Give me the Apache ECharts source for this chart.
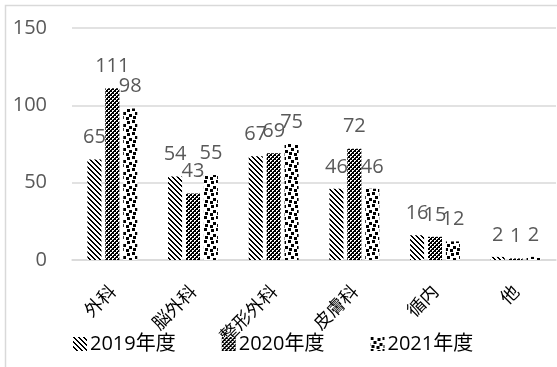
<!DOCTYPE html>
<html>
<head>
<meta charset="utf-8">
<script src="https://cdn.jsdelivr.net/npm/echarts@6/dist/echarts.min.js"></script>
<style>
  html, body { margin: 0; padding: 0; background: #fff; }
  #chart { width: 557px; height: 367px; }
</style>
</head>
<body>
<div id="chart"></div>
<script>
// Departments and yearly counts
const categories = ['外科', '脳外科', '整形外科', '皮膚科', '循内', '他'];
const seriesNames = ['2019年度', '2020年度', '2021年度'];
const values2019 = [65, 54, 67, 46, 16, 2];
const values2020 = [111, 43, 69, 72, 15, 1];
const values2021 = [98, 55, 75, 46, 12, 2];
const yTicks = { min: 0, max: 150, interval: 50 };

// Build a small tiled bitmap fill from a string mask ('X' = black)
function makePattern(rows) {
  const h = rows.length, w = rows[0].length;
  const c = document.createElement('canvas');
  c.width = w; c.height = h;
  const ctx = c.getContext('2d');
  ctx.fillStyle = '#fff';
  ctx.fillRect(0, 0, w, h);
  ctx.fillStyle = '#000';
  for (let y = 0; y < h; y++) {
    for (let x = 0; x < w; x++) {
      if (rows[y][x] === 'X') ctx.fillRect(x, y, 1, 1);
    }
  }
  return { image: c, repeat: 'repeat' };
}

// Tile of 3x3 black squares scattered on white
function makeConfetti(size, squares) {
  const c = document.createElement('canvas');
  c.width = size; c.height = size;
  const ctx = c.getContext('2d');
  ctx.fillStyle = '#fff';
  ctx.fillRect(0, 0, size, size);
  ctx.fillStyle = '#000';
  squares.forEach(([x, y]) => ctx.fillRect(x, y, 3, 3));
  return { image: c, repeat: 'repeat' };
}

// downward diagonal stripes
const diagFill = makePattern([
  'XX...',
  '.XX..',
  '..XX.',
  '...XX',
  'X...X'
]);
// dark checker with small white holes
const checkFill = makePattern([
  'XX..',
  'XX.X',
  '..XX',
  '.XXX'
]);
// large confetti
const confettiFill = makeConfetti(12, [[0, 0], [7, 1], [3, 4], [9, 6], [1, 8], [6, 9]]);

const fills = [diagFill, checkFill, confettiFill];
const dataSets = [values2019, values2020, values2021];

const chart = echarts.init(document.getElementById('chart'), null, { renderer: 'canvas' });

const labelStyle = {
  show: true,
  position: 'top',
  distance: 12,
  color: '#595959',
  fontSize: 20,
  fontFamily: 'Open Sans, Noto Sans, sans-serif'
};

chart.setOption({
  animation: false,
  backgroundColor: '#fff',
  graphic: [{
    type: 'rect',
    shape: { x: 5.5, y: 5.5, width: 600, height: 400 },
    style: { fill: 'none', stroke: '#d9d9d9', lineWidth: 1.5 },
    silent: true,
    z: -10
  }],
  grid: { left: 72, right: 1, top: 28, bottom: 107 },
  legend: {
    bottom: 8,
    left: 68,
    itemWidth: 14,
    itemHeight: 14,
    itemGap: 46,
    icon: 'rect',
    textStyle: { color: '#000', fontSize: 20, fontFamily: 'Open Sans, Noto Sans CJK JP, sans-serif', padding: [0, 0, 0, -2] },
    data: seriesNames
  },
  xAxis: {
    type: 'category',
    data: categories,
    axisTick: { show: false },
    axisLine: { lineStyle: { color: '#d9d9d9', width: 1.5 } },
    axisLabel: {
      rotate: 45,
      interval: 0,
      margin: 28,
      color: '#000',
      fontSize: 18,
      fontFamily: 'Noto Sans CJK JP, sans-serif'
    }
  },
  yAxis: {
    type: 'value',
    min: yTicks.min,
    max: yTicks.max,
    interval: yTicks.interval,
    axisLine: { show: false },
    axisTick: { show: false },
    splitLine: { lineStyle: { color: '#d9d9d9', width: 1.5 } },
    axisLabel: {
      margin: 25,
      color: '#595959',
      fontSize: 20,
      fontFamily: 'Open Sans, Noto Sans, sans-serif'
    }
  },
  series: seriesNames.map((name, i) => ({
    name: name,
    type: 'bar',
    data: dataSets[i],
    barWidth: 14,
    barGap: '28%',
    itemStyle: { color: fills[i] },
    label: labelStyle
  }))
});
</script>
</body>
</html>
